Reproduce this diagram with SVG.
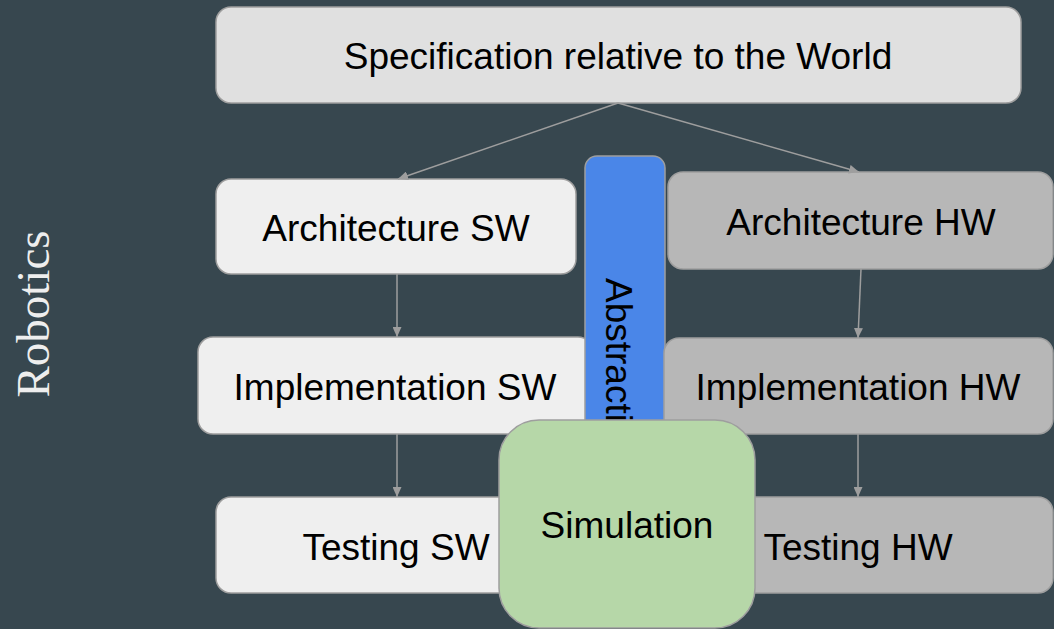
<svg xmlns="http://www.w3.org/2000/svg" width="1054" height="629" viewBox="0 0 1054 629">
  <style>
    .box { stroke: #9e9e9e; stroke-width: 1.5; }
    .sw { fill: #efefef; }
    .hw { fill: #b7b7b7; }
    .label { font-family: "Liberation Sans", Arial, sans-serif; font-size: 37px; fill: #000; text-anchor: middle; }
    .conn { stroke: #9e9e9e; stroke-width: 1.5; fill: none; marker-end: url(#arrow); }
  </style>
  <defs>
    <marker id="arrow" markerUnits="userSpaceOnUse" markerWidth="10" markerHeight="9" refX="10" refY="4.5" orient="auto">
      <path d="M0,0 L10,4.5 L0,9 z" fill="#9e9e9e"/>
    </marker>
  </defs>

  <rect width="1054" height="629" fill="#37474f"/>

  <!-- side title -->
  <text transform="translate(49,314) rotate(-90)" font-family="'Liberation Serif', 'DejaVu Serif', serif" font-size="47" fill="#eeeeee" text-anchor="middle">Robotics</text>

  <g id="spec">
    <rect class="box" x="216" y="7" width="805" height="96" rx="15" fill="#e0e0e0"/>
    <text class="label" x="618" y="69">Specification relative to the World</text>
  </g>

  <g id="arch-sw">
    <rect class="box sw" x="216" y="179" width="360" height="95" rx="15"/>
    <text class="label" x="396" y="241">Architecture SW</text>
  </g>

  <g id="arch-hw">
    <rect class="box hw" x="668" y="172" width="385" height="97" rx="15"/>
    <text class="label" x="861" y="235">Architecture HW</text>
  </g>

  <g id="impl-sw">
    <rect class="box sw" x="198" y="337" width="395" height="97" rx="15"/>
    <text class="label" x="395" y="400">Implementation SW</text>
  </g>

  <g id="test-sw">
    <rect class="box sw" x="216" y="497" width="361" height="96" rx="15"/>
    <text class="label" x="396" y="560">Testing SW</text>
  </g>

  <g id="abstraction">
    <rect class="box" x="585" y="156" width="80" height="320" rx="12" fill="#4a86e8"/>
    <text class="label" transform="translate(606,278) rotate(90)" style="text-anchor:start">Abstraction</text>
  </g>

  <g id="impl-hw">
    <rect class="box hw" x="664" y="338" width="389" height="96" rx="15"/>
    <text class="label" x="858" y="400">Implementation HW</text>
  </g>

  <g id="test-hw">
    <rect class="box hw" x="663" y="497" width="390" height="96" rx="15"/>
    <text class="label" x="858" y="560">Testing HW</text>
  </g>

  <g id="connectors">
    <line class="conn" x1="618" y1="103" x2="398" y2="179"/>
    <line class="conn" x1="618" y1="103" x2="859" y2="172"/>
    <line class="conn" x1="397" y1="274" x2="397" y2="337"/>
    <line class="conn" x1="861" y1="269" x2="858" y2="338"/>
    <line class="conn" x1="397" y1="434" x2="397" y2="497"/>
    <line class="conn" x1="858" y1="434" x2="858" y2="497"/>
  </g>

  <g id="simulation">
    <rect class="box" x="499" y="420" width="256" height="208" rx="40" fill="#b6d7a8"/>
    <text class="label" x="627" y="538">Simulation</text>
  </g>
</svg>
